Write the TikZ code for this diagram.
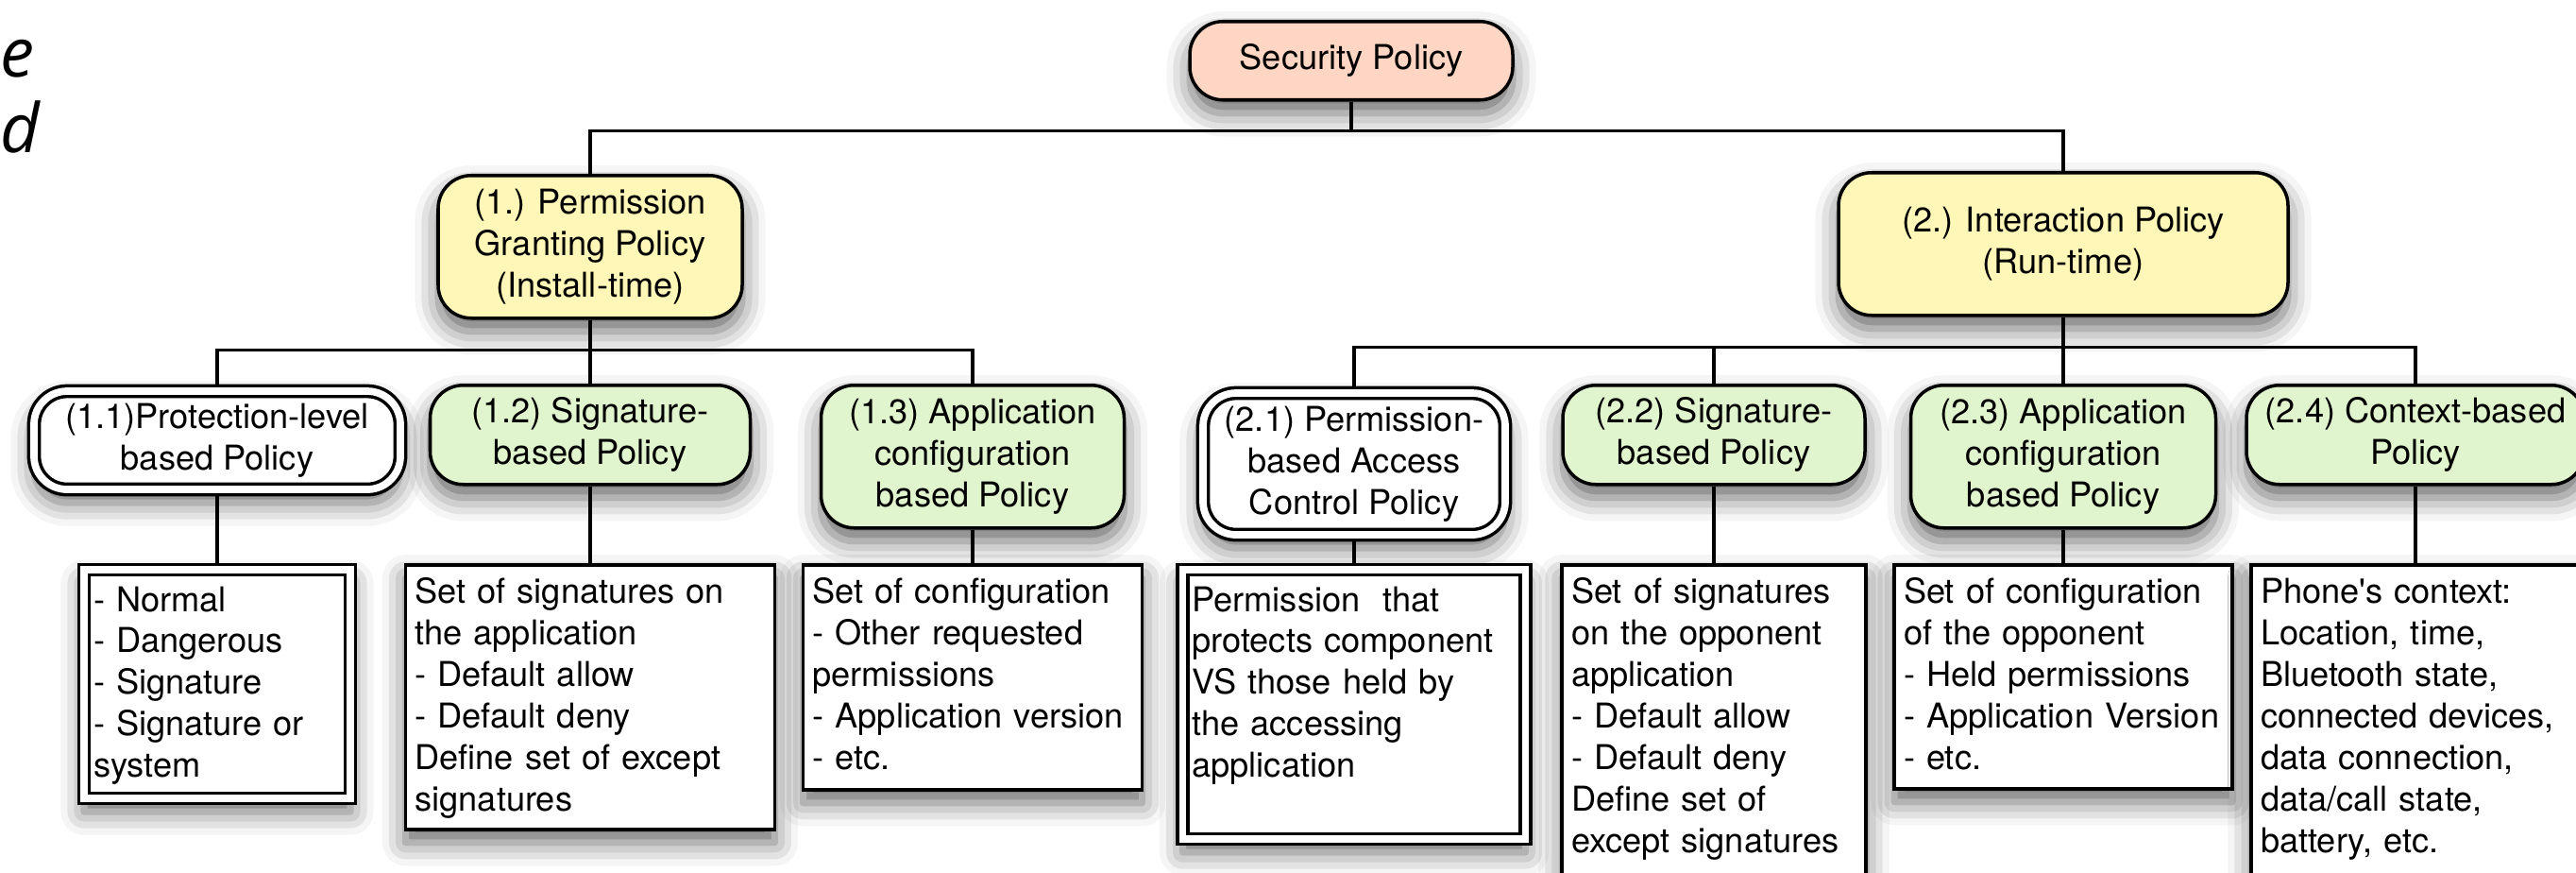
\documentclass[tikz,border=0pt]{standalone}
\usepackage{fontspec}
\setmainfont{TeX Gyre Heros}
\newfontfamily\fragfont{Open Sans}
\usepackage{tikz}
\usetikzlibrary{positioning, shadows.blur}
\definecolor{spPeach}{HTML}{FFD5C3}
\definecolor{spYellow}{HTML}{FFF7B8}
\definecolor{spGreen}{HTML}{E0F4CD}

\begin{document}
\begin{tikzpicture}[
    font=\fontsize{10.3}{12.5}\selectfont,
    dropshadow/.style={blur shadow={shadow xshift=0pt, shadow yshift=-4pt,
                       shadow blur radius=7pt, shadow opacity=60}},
    box/.style={draw, line width=1pt, rounded corners=0.35cm, align=center,
                inner sep=0pt, dropshadow},
    rootbox/.style={box, fill=spPeach, minimum width=3.42cm, minimum height=0.83cm},
    yellowbox/.style={box, fill=spYellow, minimum height=1.51cm},
    greenbox/.style={box, fill=spGreen, anchor=north},
    whitebox/.style={box, fill=white, double=white, double distance=2.2pt,
                     outer sep=2pt, anchor=north},
    descbox/.style={draw, line width=1pt, fill=white, anchor=north, align=left,
                    inner xsep=0.1cm, inner ysep=0.09cm, text height=0.32cm, dropshadow},
    ddescbox/.style={descbox, double=white, double distance=2.2pt, outer sep=2pt,
                     inner ysep=0.12cm},
    fragment/.style={font=\fragfont\itshape\fontsize{20.5}{24}\selectfont, inner sep=0pt},
    link/.style={line width=0.9pt},
]
\useasboundingbox (0,0) rectangle (27.28,-9.24);
\clip (0,0) rectangle (27.28,-9.24);

% --- cut-off text at the left edge ---
\node[fragment, anchor=base east] (frage) at (0.37,-0.82) {e};
\node[fragment, anchor=base west] (fragd) at (0.0,-1.62) {d};

% --- Root and the two policy families ---
\node[rootbox, anchor=north] (root) at (14.31,-0.21) {Security Policy};
\node[yellowbox, anchor=north, minimum width=3.22cm] (n1) at (6.25,-1.84)
    {(1.) Permission\\Granting Policy\\(Install-time)};
\node[yellowbox, anchor=north, minimum width=4.76cm] (n2) at (21.85,-1.81)
    {(2.) Interaction Policy\\(Run-time)};

% --- Install-time policies ---
\node[whitebox, minimum width=3.88cm, minimum height=1.04cm] (n11) at (2.30,-4.07)
    {(1.1)Protection-level\\based Policy};
\node[greenbox, minimum width=3.39cm, minimum height=1.05cm] (n12) at (6.25,-4.06)
    {(1.2) Signature-\\based Policy};
\node[greenbox, minimum width=3.21cm, minimum height=1.51cm] (n13) at (10.30,-4.06)
    {(1.3) Application\\configuration\\based Policy};

% --- Run-time policies ---
\node[whitebox, minimum width=3.20cm, minimum height=1.50cm] (n21) at (14.34,-4.09)
    {(2.1) Permission-\\based Access\\Control Policy};
\node[greenbox, minimum width=3.20cm, minimum height=1.05cm] (n22) at (18.15,-4.06)
    {(2.2) Signature-\\based Policy};
\node[greenbox, minimum width=3.23cm, minimum height=1.51cm] (n23) at (21.85,-4.06)
    {(2.3) Application\\configuration\\based Policy};
\node[greenbox, minimum width=3.58cm, minimum height=1.05cm] (n24) at (25.58,-4.06)
    {(2.4) Context-based\\Policy};

% --- Descriptions ---
\coordinate (descrow) at (0,-5.96);
\node[ddescbox, text width=2.62cm, text depth=1.86cm] (t11) at (n11 |- descrow)
    {- Normal\\- Dangerous\\- Signature\\- Signature or\\system};
\node[descbox, text width=3.71cm, text depth=2.30cm] (t12) at (n12 |- descrow)
    {Set of signatures on\\the application\\- Default allow\\- Default deny\\Define set of except\\signatures};
\node[descbox, text width=3.39cm, text depth=1.88cm] (t13) at (n13 |- descrow)
    {Set of configuration\\- Other requested\\permissions\\- Application version\\- etc.};
\node[ddescbox, text width=3.43cm, text depth=2.29cm] (t21) at (n21 |- descrow)
    {Permission\ \ that\\protects component\\VS those held by\\the accessing\\application};
\node[descbox, text width=3.02cm, text depth=3.10cm] (t22) at (n22 |- descrow)
    {Set of signatures\\on the opponent\\application\\- Default allow\\- Default deny\\Define set of\\except signatures};
\node[descbox, text width=3.38cm, text depth=1.87cm] (t23) at (n23 |- descrow)
    {Set of configuration\\of the opponent\\- Held permissions\\- Application Version\\- etc.};
\node[descbox, text width=3.28cm, text depth=3.10cm] (t24) at (n24 |- descrow)
    {Phone\textquotesingle s context:\\Location, time,\\Bluetooth state,\\connected devices,\\data connection,\\data/call state,\\battery, etc.};

% --- Tree lines ---
\draw[link] (root.south) -- ++(0,-0.31) -| (n1.north);
\draw[link] (root.south) -- ++(0,-0.31) -| (n2.north);

\foreach \kid in {n11,n12,n13}
    \draw[link] (n1.south) -- ++(0,-0.32) -| (\kid.north);
\foreach \kid in {n21,n22,n23,n24}
    \draw[link] (n2.south) -- ++(0,-0.32) -| (\kid.north);

\foreach \kid in {11,12,13,21,22,23,24}
    \draw[link] (n\kid.south) -- (t\kid.north);

\end{tikzpicture}
\end{document}
